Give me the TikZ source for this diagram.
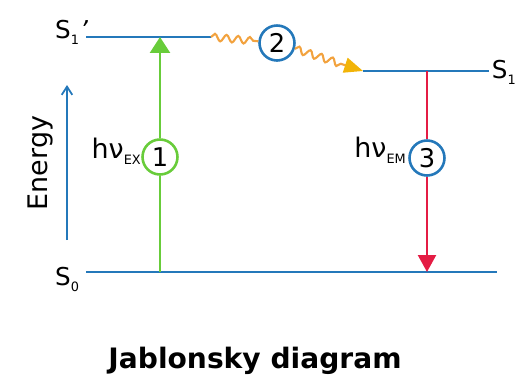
\documentclass[tikz,border=0pt]{standalone}
\usepackage{fontspec}
\setmainfont{DejaVu Sans}
\usetikzlibrary{arrows.meta,decorations.pathmorphing,positioning}

\definecolor{levelblue}{RGB}{36,120,186}
\definecolor{exgreen}{RGB}{104,204,58}
\definecolor{emred}{RGB}{228,28,68}
\definecolor{waveorange}{RGB}{242,162,62}
\definecolor{tipyellow}{RGB}{242,180,8}

\newcommand{\sub}[1]{\raisebox{-.45ex}{\fontsize{11}{11}\selectfont #1}}

\begin{document}
\begin{tikzpicture}[x=0.03cm, y=-0.03cm,
    level/.style={levelblue, line width=2.2pt},
    num/.style={circle, draw, line width=2.2pt, fill=white, minimum size=1.05cm, inner sep=0pt, font=\fontsize{22}{22}\selectfont},
    lbl/.style={inner sep=0pt, font=\fontsize{21}{21}\selectfont},
    hv/.style={inner sep=0pt, font=\fontsize{23}{23}\selectfont},
    exline/.style={exgreen, line width=2.2pt},
    emline/.style={emred, line width=2.2pt},
    wave/.style={waveorange, line width=1.8pt, decorate, decoration={snake, amplitude=3pt, segment length=10pt}}]

    \useasboundingbox (0,0) rectangle (518,382);

    % levels
    \coordinate (s1pa) at (86,37);
    \coordinate (s1pb) at (211,37);
    \coordinate (s1a) at (363,71);
    \coordinate (s1b) at (489,71);
    \coordinate (s0a) at (86,272);
    \coordinate (s0b) at (497,272);

    \draw[level] (s1pa) -- (s1pb);
    \draw[level] (s1a) -- (s1b);
    \draw[level] (s0a) -- (s0b);

    \node[lbl, anchor=base west] (ls1p) at (55,38) {S\sub{1}\hspace{1pt}{\itshape\char"27}};
    \node[lbl, anchor=base east] (ls1) at (516,78) {S\sub{1}};
    \node[lbl, anchor=base west] (ls0) at (55,285) {S\sub{0}};

    % energy axis
    \coordinate (eb) at (67,240);
    \coordinate (et) at (67,85);
    \draw[levelblue, line width=1.5pt, -{Straight Barb[length=7pt, width=9pt]}] (eb) -- (et);
    \node[rotate=90, inner sep=0pt, font=\fontsize{23}{23}\selectfont] (energy) at (40,163) {Energy};

    % excitation
    \coordinate (ex0) at (160,272);
    \coordinate (ex1) at (160,37);
    \node[num, draw=exgreen] (n1) at (160,157) {1};
    \draw[exline] (ex0) -- (n1);
    \draw[exline, -{Triangle[length=13.6pt, width=17pt]}] (n1) -- (ex1);
    \node[hv, anchor=base east] (hex) at (141,158) {hν\sub{EX}};

    % relaxation
    \node[num, draw=levelblue] (n2) at (277,43) {2};
    \draw[wave] (s1pb) -- (n2);
    \draw[wave, decoration={post length=15pt}, -{Triangle[length=16pt, width=13pt, color=tipyellow]}] (n2) -- (s1a);

    % emission
    \coordinate (em0) at (427,71);
    \coordinate (em1) at (427,272);
    \node[num, draw=levelblue] (n3) at (427,158) {3};
    \draw[emline] (em0) -- (n3);
    \draw[emline, -{Triangle[length=14.5pt, width=15.3pt]}] (n3) -- (em1);
    \node[hv, anchor=base east] (hem) at (406,157) {hν\sub{EM}};

    \node[inner sep=0pt, anchor=base, font=\bfseries\fontsize{24}{24}\selectfont] (title) at (255,368) {Jablonsky diagram};
\end{tikzpicture}
\end{document}
